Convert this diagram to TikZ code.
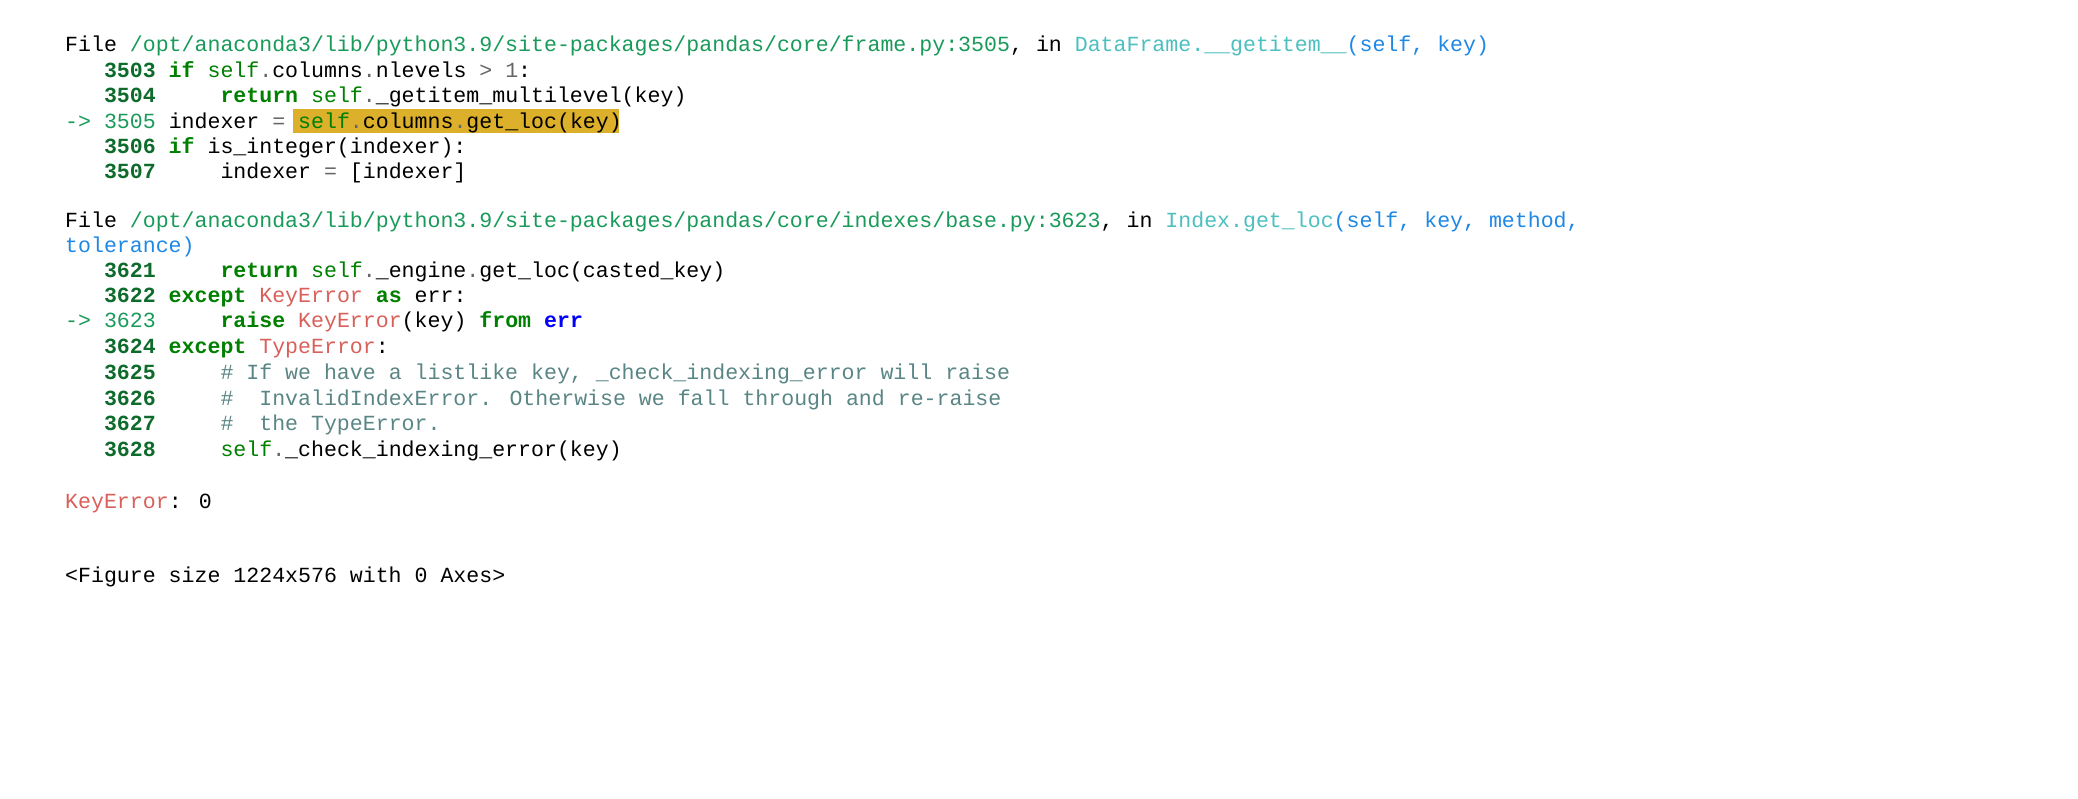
\documentclass[tikz,border=0pt]{standalone}
\usepackage{fontspec}
\setmainfont{Liberation Mono}
\definecolor{kw}{HTML}{008000}
\definecolor{ln}{HTML}{0E6B2C}
\definecolor{pth}{HTML}{1A9A5A}
\definecolor{cy}{HTML}{4DBFBF}
\definecolor{bl}{HTML}{1E88E5}
\definecolor{rd}{HTML}{D9605A}
\definecolor{cm}{HTML}{5A8585}
\definecolor{op}{HTML}{666666}
\definecolor{hl}{HTML}{DCB02A}
\newcommand\cs[1]{\hspace*{#1\dimexpr0.6em\relax}}
\newcommand\Kw[1]{\textcolor{kw}{\bfseries #1}}
\newcommand\Nm[1]{\textcolor{ln}{\bfseries #1}}
\newcommand\Sf{\textcolor{kw}{self}}
\newcommand\Dt{\textcolor{op}{.}}
\newcommand\Rd[1]{\textcolor{rd}{#1}}
\begin{document}
\begin{tikzpicture}[x=1pt,y=-1pt,
  ln/.style={anchor=base west,inner sep=0pt,font=\fontsize{21.57}{24}\selectfont}]
\useasboundingbox (0,0) rectangle (2078,798);
\fill[hl] (293,109) rectangle (619,133);
\node[ln] (a1) at (65,51) {File \textcolor{pth}{/opt/anaconda3/lib/python3.9/site-packages/pandas/core/frame.py:3505}, in \textcolor{cy}{DataFrame.\_\_getitem\_\_}\textcolor{bl}{(self, key)}};
\node[ln] (a2) at (65,77) {\cs{3}\Nm{3503} \Kw{if} \Sf\Dt columns\Dt nlevels \textcolor{op}{>} \textcolor{op}{1}:};
\node[ln] (a3) at (65,102) {\cs{3}\Nm{3504}\cs{5}\Kw{return} \Sf\Dt\_getitem\_multilevel(key)};
\node[ln] (a4) at (65,128) {\textcolor{pth}{-> 3505} indexer \textcolor{op}{=} \Sf\Dt columns\Dt get\_loc(key)};
\node[ln] (a5) at (65,153) {\cs{3}\Nm{3506} \Kw{if} is\_integer(indexer):};
\node[ln] (a6) at (65,178) {\cs{3}\Nm{3507}\cs{5}indexer \textcolor{op}{=} [indexer]};
\node[ln] (b1) at (65,227) {File \textcolor{pth}{/opt/anaconda3/lib/python3.9/site-packages/pandas/core/indexes/base.py:3623}, in \textcolor{cy}{Index.get\_loc}\textcolor{bl}{(self, key, method,}};
\node[ln] (b2) at (65,252) {\textcolor{bl}{tolerance)}};
\node[ln] (b3) at (65,277) {\cs{3}\Nm{3621}\cs{5}\Kw{return} \Sf\Dt\_engine\Dt get\_loc(casted\_key)};
\node[ln] (b4) at (65,302) {\cs{3}\Nm{3622} \Kw{except} \Rd{KeyError} \Kw{as} err:};
\node[ln] (b5) at (65,327) {\textcolor{pth}{-> 3623}\cs{5}\Kw{raise} \Rd{KeyError}(key) \Kw{from} \textcolor{blue}{\bfseries err}};
\node[ln] (b6) at (65,353) {\cs{3}\Nm{3624} \Kw{except} \Rd{TypeError}:};
\node[ln] (b7) at (65,379) {\cs{3}\Nm{3625}\cs{5}\textcolor{cm}{\# If we have a listlike key, \_check\_indexing\_error will raise}};
\node[ln] (b8) at (65,405) {\cs{3}\Nm{3626}\cs{5}\textcolor{cm}{\#\cs{2}InvalidIndexError. Otherwise we fall through and re-raise}};
\node[ln] (b9) at (65,430) {\cs{3}\Nm{3627}\cs{5}\textcolor{cm}{\#\cs{2}the TypeError.}};
\node[ln] (b10) at (65,456) {\cs{3}\Nm{3628}\cs{5}\Sf\Dt\_check\_indexing\_error(key)};
\node[ln] (c1) at (65,508) {\Rd{KeyError}: 0};
\node[ln] (c2) at (65,582) {<Figure size 1224x576 with 0 Axes>};
\end{tikzpicture}
\end{document}
